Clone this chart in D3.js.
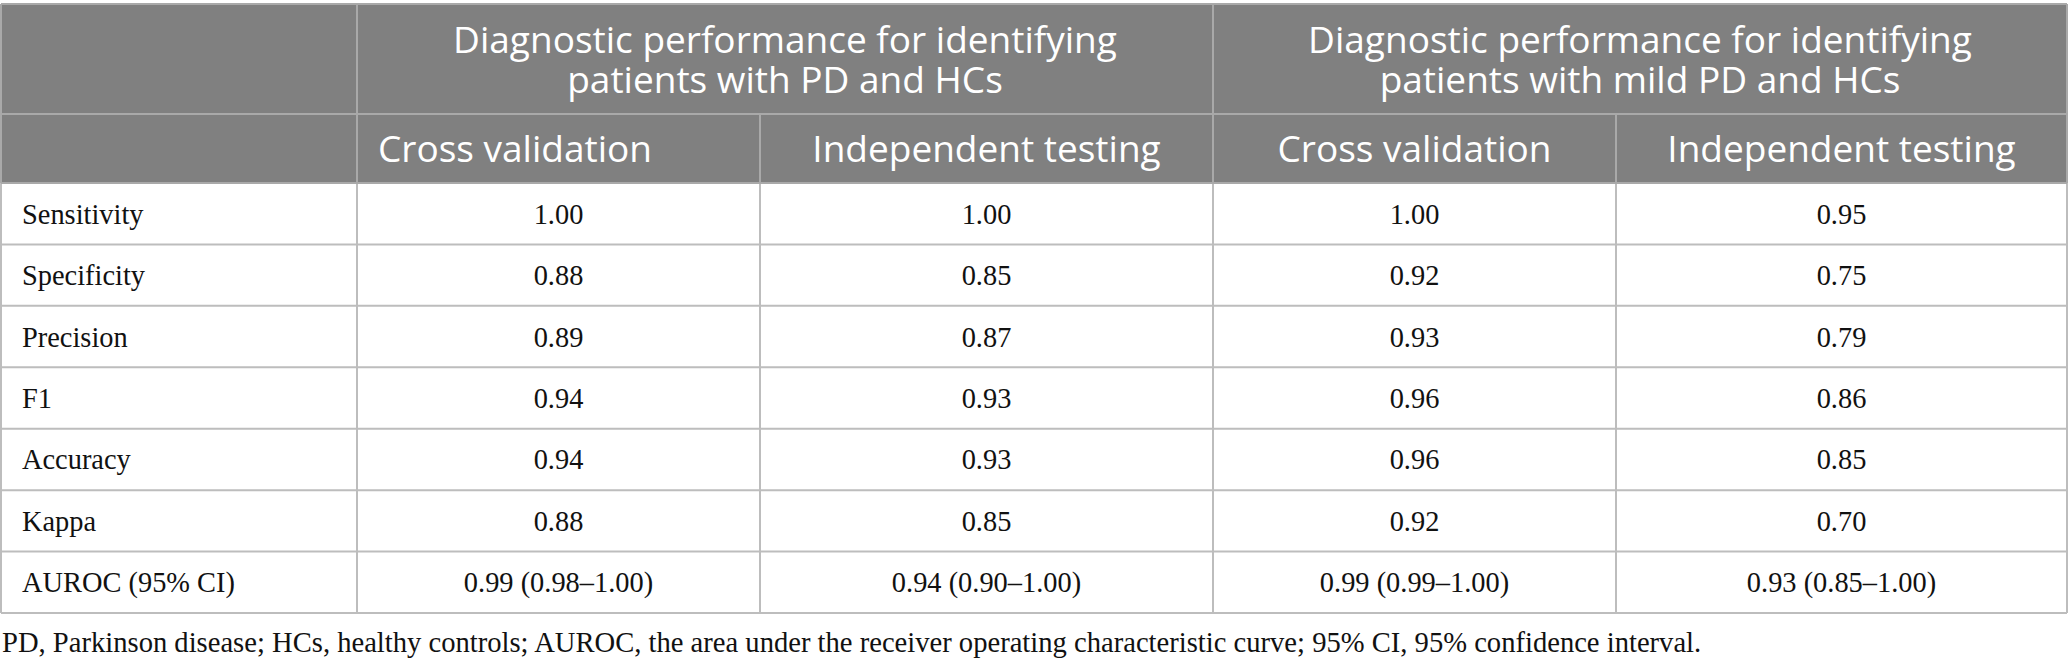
<!DOCTYPE html>
<html>
<head>
<meta charset="utf-8">
<script src="https://cdn.jsdelivr.net/npm/d3@7/dist/d3.min.js"></script>
<style>
  html, body { margin: 0; padding: 0; background: #ffffff; }
  svg { display: block; }
</style>
</head>
<body>
<svg id="chart" width="2068" height="666"></svg>
<script>
// ---- data ----
const metrics = ["Sensitivity", "Specificity", "Precision", "F1", "Accuracy", "Kappa", "AUROC (95% CI)"];
const groupTitles = [
  ["Diagnostic performance for identifying", "patients with PD and HCs"],
  ["Diagnostic performance for identifying", "patients with mild PD and HCs"]
];
const subHeaders = ["Cross validation", "Independent testing", "Cross validation", "Independent testing"];
const pdCrossValidation = ["1.00", "0.88", "0.89", "0.94", "0.94", "0.88", "0.99 (0.98–1.00)"];
const pdIndependentTesting = ["1.00", "0.85", "0.87", "0.93", "0.93", "0.85", "0.94 (0.90–1.00)"];
const mildCrossValidation = ["1.00", "0.92", "0.93", "0.96", "0.96", "0.92", "0.99 (0.99–1.00)"];
const mildIndependentTesting = ["0.95", "0.75", "0.79", "0.86", "0.85", "0.70", "0.93 (0.85–1.00)"];
const footnote = "PD, Parkinson disease; HCs, healthy controls; AUROC, the area under the receiver operating characteristic curve; 95% CI, 95% confidence interval.";

// ---- layout ----
(function () {
const columns = [pdCrossValidation, pdIndependentTesting, mildCrossValidation, mildIndependentTesting];
const colEdges = [1, 357, 760, 1213, 1616, 2067];
const tableTop = 4, h1Bottom = 114, h2Bottom = 183, tableBottom = 613;
const headFill = "#808080", headLine = "#a9a9a9", bodyLine = "#bdbdbd";
const sans = "'Open Sans', 'Noto Sans', sans-serif";
const serif = "'Liberation Serif', 'DejaVu Serif', serif";
const ink = "#111111";

const svg = d3.select("#chart");

const y = d3.scaleBand().domain(metrics).range([h2Bottom, tableBottom]);

// header background
svg.append("rect").attr("x", colEdges[0]).attr("y", tableTop)
  .attr("width", colEdges[5] - colEdges[0]).attr("height", h2Bottom - tableTop)
  .attr("fill", headFill);

// body rows horizontal lines
svg.append("g").selectAll("line").data(metrics).join("line")
  .attr("x1", colEdges[0]).attr("x2", colEdges[5])
  .attr("y1", d => y(d) + y.bandwidth()).attr("y2", d => y(d) + y.bandwidth())
  .attr("stroke", bodyLine).attr("stroke-width", 2);

// vertical lines in body
svg.append("g").selectAll("line").data(colEdges).join("line")
  .attr("x1", d => d).attr("x2", d => d)
  .attr("y1", h2Bottom).attr("y2", tableBottom)
  .attr("stroke", bodyLine).attr("stroke-width", 2);

// header lines
const hl = svg.append("g").attr("stroke", headLine).attr("stroke-width", 2);
[tableTop, h1Bottom, h2Bottom].forEach(yy =>
  hl.append("line").attr("x1", colEdges[0]).attr("x2", colEdges[5]).attr("y1", yy).attr("y2", yy));
[colEdges[0], colEdges[1], colEdges[3], colEdges[5]].forEach(x =>
  hl.append("line").attr("x1", x).attr("x2", x).attr("y1", tableTop).attr("y2", h2Bottom));
[colEdges[2], colEdges[4]].forEach(x =>
  hl.append("line").attr("x1", x).attr("x2", x).attr("y1", h1Bottom).attr("y2", h2Bottom));

// group titles (two lines each)
groupTitles.forEach((lines, i) => {
  const cx = (colEdges[1 + 2 * i] + colEdges[3 + 2 * i]) / 2;
  svg.append("g").selectAll("text").data(lines).join("text")
    .attr("x", cx).attr("y", (d, k) => 53 + k * 40)
    .attr("text-anchor", "middle").attr("fill", "#ffffff")
    .attr("font-family", sans).attr("font-size", 37)
    .text(d => d);
});

// sub headers
svg.append("g").selectAll("text").data(subHeaders).join("text")
  .attr("x", (d, i) => i === 0 ? colEdges[1] + 21 : (colEdges[i + 1] + colEdges[i + 2]) / 2)
  .attr("y", 162)
  .attr("text-anchor", (d, i) => i === 0 ? "start" : "middle")
  .attr("fill", "#ffffff").attr("font-family", sans).attr("font-size", 37)
  .text(d => d);

// row labels
svg.append("g").selectAll("text").data(metrics).join("text")
  .attr("x", 22).attr("y", d => y(d) + y.bandwidth() / 2 + 10)
  .attr("fill", ink).attr("font-family", serif).attr("font-size", 28.4)
  .text(d => d);

// values
columns.forEach((col, i) => {
  const cx = (colEdges[i + 1] + colEdges[i + 2]) / 2;
  svg.append("g").selectAll("text").data(col).join("text")
    .attr("x", cx).attr("y", (d, k) => y(metrics[k]) + y.bandwidth() / 2 + 10)
    .attr("text-anchor", "middle")
    .attr("fill", ink).attr("font-family", serif).attr("font-size", 28.4)
    .text(d => d);
});

// footnote
svg.append("text").attr("x", 2).attr("y", 652)
  .attr("fill", ink).attr("font-family", serif).attr("font-size", 28.6)
  .text(footnote);
})();
</script>
</body>
</html>
